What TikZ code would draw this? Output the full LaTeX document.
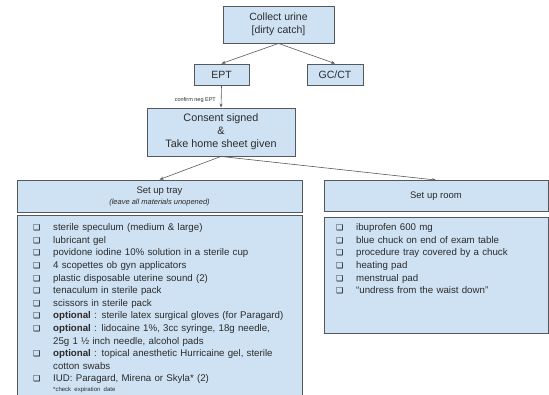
\documentclass[tikz,border=0pt]{standalone}
\usepackage{fontspec}
\setmainfont{Liberation Sans}
\newfontfamily\symfont{DejaVu Sans}
\usetikzlibrary{arrows.meta}
\definecolor{boxfill}{HTML}{CFE2F3}
\definecolor{boxline}{HTML}{55595E}
\definecolor{lineclr}{HTML}{595959}
\definecolor{txt}{HTML}{2B2B2B}
\newcommand{\chkitem}[1]{\par\hangindent=20pt\hangafter=1\noindent\makebox[20pt][l]{\symfont\fontsize{8}{8}\selectfont\color{black}❑}#1}
\begin{document}
\begin{tikzpicture}[x=1pt,y=-1pt,
  box/.style={draw=boxline, fill=boxfill, line width=0.9pt, inner sep=0pt, align=center, text=txt},
  conn/.style={draw=lineclr, line width=0.6pt, -{Stealth[length=4pt,width=3pt]}},
  listtext/.style={anchor=north west, inner sep=0pt, text=txt, text width=272pt, align=left,
    font=\fontsize{9.7}{12.6}\selectfont}
]
\useasboundingbox (0,0) rectangle (549,395);
\clip (0,0) rectangle (549,395);

\node[box, minimum width=111pt, minimum height=37pt, font=\fontsize{10.5}{13}\selectfont] (collect) at (278.5,24.5) {Collect urine\\{[dirty catch]}};
\node[box, minimum width=55pt, minimum height=21pt, font=\fontsize{10.5}{12.5}\selectfont] (ept) at (221.5,74.5) {EPT};
\node[box, minimum width=56pt, minimum height=21pt, font=\fontsize{10.5}{12.5}\selectfont] (gcct) at (335,74.5) {GC/CT};
\node[box, minimum width=148pt, minimum height=48pt, font=\fontsize{10.8}{13}\selectfont] (consent) at (221,132) {Consent signed\\\&\\Take home sheet given};

\node[box, minimum width=285pt, minimum height=32pt, font=\fontsize{9.5}{11}\selectfont] (trayh) at (159.5,196) {Set up tray\\{\fontsize{7.5}{9}\selectfont\itshape (leave all materials unopened)}};
\node[box, minimum width=285pt, minimum height=195pt] (trayb) at (159.5,312.5) {};

\node[box, minimum width=224pt, minimum height=31pt, font=\fontsize{9.5}{11}\selectfont] (roomh) at (436,196) {Set up room};
\node[box, minimum width=224pt, minimum height=116pt] (roomb) at (436,275) {};

\node[listtext] (traylist) at (33,218) {%
\chkitem{sterile speculum (medium \& large)}
\chkitem{lubricant gel}
\chkitem{povidone iodine 10\% solution in a sterile cup}
\chkitem{4 scopettes ob gyn applicators}
\chkitem{plastic disposable uterine sound (2)}
\chkitem{tenaculum in sterile pack}
\chkitem{scissors in sterile pack}
\chkitem{\textbf{optional} : sterile latex surgical gloves (for Paragard)}
\chkitem{\textbf{optional} : lidocaine 1\%, 3cc syringe, 18g needle,\newline 25g 1 ½ inch needle, alcohol pads}
\chkitem{\textbf{optional} : topical anesthetic Hurricaine gel, sterile\newline cotton swabs}
\chkitem{IUD: Paragard, Mirena or Skyla* (2)}
\par{\noindent\hspace*{20pt}\fontsize{6}{10}\selectfont *check expiration date\par}};

\node[listtext, text width=200pt] (roomlist) at (336,218) {%
\chkitem{ibuprofen 600 mg}
\chkitem{blue chuck on end of exam table}
\chkitem{procedure tray covered by a chuck}
\chkitem{heating pad}
\chkitem{menstrual pad}
\chkitem{“undress from the waist down”}\par};

\draw[conn] (collect.south) -- (ept.north);
\draw[conn] (collect.south) -- (gcct.north);
\draw[conn] (ept.south) -- (consent.north);
\node[text=txt, font=\fontsize{5.5}{6.5}\selectfont, anchor=east, inner sep=0pt] (confirm) at (216,100) {confirm neg EPT};
\draw[conn] (consent.south) -- (trayh.north);
\draw[conn] (consent.south) -- (roomh.north);
\end{tikzpicture}
\end{document}
